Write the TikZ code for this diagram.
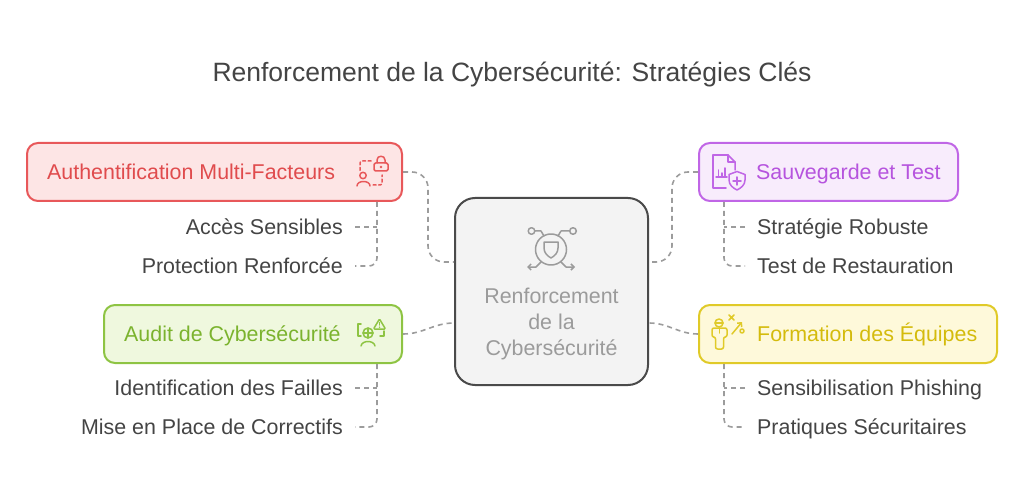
\documentclass[tikz,border=0pt]{standalone}
\usepackage{fontspec}
\setmainfont{Liberation Sans}
\usepackage{tikz}
\usetikzlibrary{arrows.meta}
\usetikzlibrary{positioning}

\definecolor{redline}{HTML}{E8585A}
\definecolor{redfill}{HTML}{FDE5E5}
\definecolor{redtext}{HTML}{E04B4D}
\definecolor{greenline}{HTML}{8EC443}
\definecolor{greenfill}{HTML}{EFF8DE}
\definecolor{greentext}{HTML}{7BB32E}
\definecolor{purpleline}{HTML}{C066E6}
\definecolor{purplefill}{HTML}{F8ECFC}
\definecolor{purpletext}{HTML}{B654DE}
\definecolor{yellowline}{HTML}{E0CA28}
\definecolor{yellowfill}{HTML}{FEF9DA}
\definecolor{yellowtext}{HTML}{D4BB0C}
\definecolor{coreline}{HTML}{4A4A4A}
\definecolor{corefill}{HTML}{F3F3F3}
\definecolor{coretext}{HTML}{9B9B9B}
\definecolor{subtext}{HTML}{444444}
\definecolor{linkgray}{HTML}{9C9C9C}

\begin{document}
\begin{tikzpicture}
	[x=1pt,y=-1pt,every node/.style={font=\fontsize{21.4}{26}\selectfont,inner sep=3pt},
	catbox/.style={draw,rounded corners=11pt,line width=2pt,minimum height=58pt},
	catlabel/.style={anchor=west,text height=15pt,text depth=0pt},
	subitem/.style={text=subtext,text height=15pt,text depth=0pt,inner xsep=12pt},
	link/.style={draw=linkgray,line width=1.6pt,dash pattern=on 5pt off 4pt},
	icon/.style={line width=1.5pt,line cap=round,line join=round}]
	\useasboundingbox (0,0) rectangle (1024,494);
	\node[text=subtext,anchor=base,font=\fontsize{26.5}{30}\selectfont] (title) at (512,82) {Renforcement de la Cybersécurité: Stratégies Clés};

	% centre
	\node[catbox,draw=coreline,fill=corefill,rounded corners=20pt,minimum width=193pt,minimum height=187pt] (core) at (551.5,291.5) {};
	\node[text=coretext,align=center] (coretxt) at (551.5,324) {Renforcement\\de la\\Cybersécurité};

	% branches
	\node[catbox,draw=redline,fill=redfill,minimum width=375pt] (auth) at (214.5,172) {};
	\node[catlabel,text=redtext,right=18pt of auth.west] (authlbl) {Authentification Multi-Facteurs};
	\node[catbox,draw=greenline,fill=greenfill,minimum width=298pt] (audit) at (253,334) {};
	\node[catlabel,text=greentext,right=18pt of audit.west] (auditlbl) {Audit de Cybersécurité};
	\node[catbox,draw=purpleline,fill=purplefill,minimum width=259pt] (backup) at (828.5,172) {};
	\node[catlabel,text=purpletext,right=55pt of backup.west] (backuplbl) {Sauvegarde et Test};
	\node[catbox,draw=yellowline,fill=yellowfill,minimum width=298pt] (train) at (848,334) {};
	\node[catlabel,text=yellowtext,right=56pt of train.west] (trainlbl) {Formation des Équipes};

	\node[subitem,anchor=east] (acc) at (355,227) {Accès Sensibles};
	\node[subitem,anchor=east] (prot) at (355,266) {Protection Renforcée};
	\node[subitem,anchor=east] (ident) at (355,388) {Identification des Failles};
	\node[subitem,anchor=east] (mise) at (355,427) {Mise en Place de Correctifs};
	\node[subitem,anchor=west] (robust) at (745,227) {Stratégie Robuste};
	\node[subitem,anchor=west] (rest) at (745,266) {Test de Restauration};
	\node[subitem,anchor=west] (sens) at (745,388) {Sensibilisation Phishing};
	\node[subitem,anchor=west] (prat) at (745,427) {Pratiques Sécuritaires};

	\coordinate (authv) at ([xshift=-26pt]auth.south east);
	\coordinate (auditv) at ([xshift=-26pt]audit.south east);
	\coordinate (backv) at ([xshift=26pt]backup.south west);
	\coordinate (trainv) at ([xshift=26pt]train.south west);

	% connectors
	\draw[link,rounded corners=16pt] (auth.east) -- ++(25,0) |- ([yshift=29.5pt]core.west);
	\draw[link] (audit.east) to[out=0,in=180] ([yshift=-31.5pt]core.west);
	\draw[link,rounded corners=16pt] (backup.west) -- ++(-26,0) |- ([yshift=29.5pt]core.east);
	\draw[link] (train.west) to[out=180,in=0] ([yshift=-31.5pt]core.east);

	\foreach \stem/\last in {authv/prot, auditv/mise}
	\draw[link,rounded corners=8pt] (\stem) |- (\last.east);
	\foreach \stem/\last in {backv/rest, trainv/prat}
	\draw[link,rounded corners=8pt] (\stem) |- (\last.west);
	\foreach \sub/\stem in {acc/authv, ident/auditv}
	\draw[link] (\sub.east) -- (\sub.east -| \stem);
	\foreach \sub/\stem in {robust/backv, sens/trainv}
	\draw[link] (\sub.west) -- (\sub.west -| \stem);

	% icons
	\begin{scope}[icon,draw=redline]
	\draw[rounded corners=1.5pt] (374,163) rectangle (388,171);
	\draw (377,163) -- (377,160) .. controls (377,155) and (385,155) .. (385,160) -- (385,163);
	\fill[redline] (381,167) circle (1.3pt);
	\draw (363,175.5) circle (3.2pt);
	\draw (357,186) .. controls (357,180) and (370,180) .. (370,186);
	\draw[dash pattern=on 3pt off 2.5pt,rounded corners=2pt] (371,161) -- (360,161) -- (360,172);
	\draw[dash pattern=on 3pt off 2.5pt,rounded corners=2pt] (373,185) -- (382,185) -- (382,175);
	\end{scope}
	\begin{scope}[icon,draw=greenline]
	\draw (361,324) -- (358,324) -- (358,336) -- (361,336);
	\draw (380,336) -- (384,336) -- (384,331);
	\draw (368,333) circle (5pt);
	\draw (368,328) -- (368,338) (363,333) -- (373,333);
	\draw (361,346) .. controls (362,340) and (374,340) .. (375,346);
	\draw[rounded corners=1pt] (379.5,319) -- (385.5,329) -- (373.5,329) -- cycle;
	\draw (379.5,322.5) -- (379.5,325);
	\fill[greenline] (379.5,327.2) circle (0.8pt);
	\end{scope}
	\begin{scope}[icon,draw=purpleline]
	\draw (728,155) -- (713,155) -- (713,188) -- (726,188);
	\draw (728,155) -- (735,162) -- (735,170);
	\draw (728,155) -- (728,162) -- (735,162);
	\draw (716,177) -- (727,177) (718.5,177) -- (718.5,170) (722,177) -- (722,173) (725,177) -- (725,168);
	\draw[fill=purplefill] (737,171.5) -- (745,174.5) -- (745,180) .. controls (745,185) and (741,188) .. (737,190) .. controls (733,188) and (729,185) .. (729,180) -- (729,174.5) -- cycle;
	\draw (737,177) -- (737,185) (733,181) -- (741,181);
	\end{scope}
	\begin{scope}[icon,draw=yellowline]
	\draw (719,323) circle (4pt);
	\draw (715,323) -- (723,323);
	\draw[rounded corners=2pt] (712,337) -- (712,328) -- (727,328) -- (727,337) -- (723.5,337) -- (723.5,349) -- (715.5,349) -- (715.5,337) -- cycle;
	\draw (719.5,328) -- (719.5,333);
	\draw (729,315) -- (734,320) (734,315) -- (729,320);
	\draw[-{Straight Barb[length=3pt]}] (732,334) -- (742,322);
	\draw (742,331) circle (2pt);
	\end{scope}
	\begin{scope}[icon,draw=coretext]
	\draw (551,249.5) circle (15.5pt);
	\draw (544,242) -- (558,242) -- (558,248) .. controls (558,253) and (554.5,256) .. (551,258) .. controls (547.5,256) and (544,253) .. (544,248) -- cycle;
	\draw (531.5,231) circle (3.3pt);
	\draw (573,231) circle (3.3pt);
	\draw (535,231) -- (541,231) -- (544,236);
	\draw (569.5,231) -- (561,231) -- (558,236);
	\draw[-{Straight Barb[length=3pt]}] (541,262) -- (536,267) -- (527,267);
	\draw[-{Straight Barb[length=3pt]}] (561,262) -- (566,267) -- (575,267);
	\end{scope}
\end{tikzpicture}
\end{document}
